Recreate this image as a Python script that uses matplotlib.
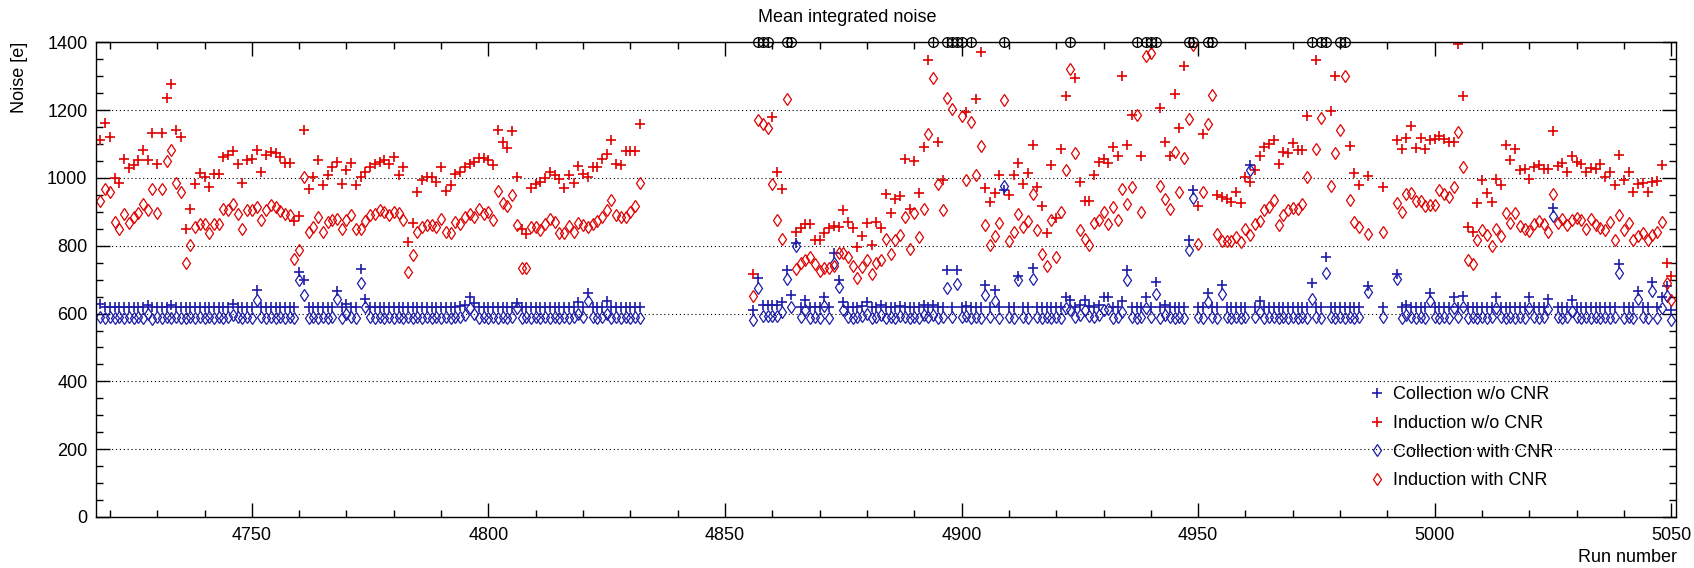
import numpy as np
import matplotlib
matplotlib.use("Agg")
import matplotlib.pyplot as plt
from matplotlib.ticker import MultipleLocator

nan = np.nan

# run numbers: two data taking periods, a few runs missing in the second one
runs_a = list(range(4718, 4833))
missing_b = [4985, 4987, 4988, 4990, 4991]
runs_b = [r for r in range(4856, 5051) if r not in missing_b]

# runs with a point above the 1400 e range (drawn as circles on the top axis)
overflow_runs = [4857, 4858, 4859, 4863, 4864, 4894, 4897, 4898, 4899, 4900,
                 4902, 4909, 4923, 4937, 4939, 4940, 4941, 4948, 4949, 4952,
                 4953, 4974, 4976, 4977, 4980, 4981]

# ---- period A (4718-4832) ----
ind_raw_a = [1111, 1163, 1121, 1000, 985, 1055, 1028, 1037, 1052, 1081,
             1052, 1133, 1042, 1133, 1237, 1276, 1142, 1121, 849, 908,
             981, 1015, 1003, 973, 1013, 1013, 1062, 1067, 1079, 1040,
             985, 1052, 1057, 1083, 1018, 1067, 1077, 1074, 1062, 1044,
             1044, 873, 888, 1140, 968, 1003, 1054, 978, 1008, 1031,
             1047, 983, 1023, 1044, 978, 1003, 1018, 1033,
             1042, 1047, 1054, 1042, 1062, 1008, 1031, 811, 868, 958,
             995, 1003, 1003, 988, 1031, 962, 978,
             1013, 1018, 1031, 1041, 1047, 1060, 1060, 1052, 1037, 1140,
             1106, 1089, 1138, 1003, 848, 836, 971, 981, 987, 1001,
             1018, 1008, 998, 971, 1008, 985, 1036, 1013, 1003, 1031,
             1031, 1057, 1070, 1111, 1040, 1037, 1079, 1079, 1079, 1160]

ind_cnr_a = [931, 968, 958, 870, 850, 895, 868, 884, 896, 923,
             904, 968, 897, 968, 1050, 1081, 985, 958, 750, 801,
             855, 865, 865, 838, 865, 863, 909, 904, 923, 895,
             850, 904, 904, 914, 876, 906, 921, 914, 902, 895,
             890, 762, 787, 1003, 840, 855, 886, 840, 870, 876,
             880, 848, 876, 891, 850, 850, 874, 890,
             895, 905, 900, 890, 900, 898, 875, 723, 773, 840,
             855, 862, 862, 855, 880, 840, 837,
             870, 865, 884, 894, 886, 909, 894, 899, 876, 961,
             926, 916, 949, 860, 733, 733, 855, 855, 847, 863,
             880, 870, 837, 837, 857, 842, 868, 862, 855, 865,
             873, 884, 904, 935, 892, 884, 886, 899, 917, 985]

col_raw_a = [627, 620, 618, 620, 620, 620, 620, 620, 620, 620,
             625, 620, 620, 620, 620, 624, 620, 618, 618, 620,
             620, 620, 620, 620, 620, 620, 620, 620, 627, 620,
             620, 620, 620, 669, 620, 620, 620, 620, 620, 620,
             620, 620, 723, 698, 620, 620, 620, 620, 620, 620,
             666, 620, 627, 620, 620, 730, 644, 620, 620, 620,
             620, 620, 620, 620, 620, 620, 620, 620, 620, 620,
             620, 620, 620, 620, 620, 620, 622, 625, 650, 630,
             620, 620, 620, 620, 620, 620, 620, 620, 632, 620,
             620, 620, 620, 620, 620, 620, 620, 620, 620, 620,
             620, 633, 620, 660, 620, 620, 620, 637, 620, 620,
             620, 620, 620, 620, 620]

col_cnr_a = [590, 588, 590, 588, 590, 588, 590, 588, 590, 588,
             600, 585, 590, 588, 590, 588, 590, 588, 586, 590,
             588, 590, 588, 590, 588, 590, 588, 590, 596, 590,
             588, 590, 588, 641, 590, 588, 590, 588, 590, 588,
             590, 588, 700, 654, 588, 590, 588, 590, 588, 590,
             642, 588, 600, 590, 588, 691, 618, 590, 588, 590,
             588, 590, 588, 590, 588, 590, 588, 590, 588, 590,
             588, 590, 588, 590, 588, 590, 590, 595, 615, 600,
             588, 590, 588, 590, 588, 590, 588, 590, 615, 588,
             590, 588, 590, 588, 590, 588, 590, 588, 590, 588,
             590, 600, 590, 638, 590, 588, 590, 600, 588, 590,
             588, 590, 588, 590, 588]

# ---- period B (4856-5050) ----
ind_raw_b = [718, nan, nan, nan, 1181, 1018, 966, nan, nan, 841,
             851, 865, 865, 818, 816, 838, 853, 857, 855, 905,
             869, 853, 796, 828, 867, 801, 869, 853, 954, 896,
             939, 948, 1057, 907, 1049, 957, 1091, 1349, nan, 1106,
             993, nan, nan, nan, nan, 1194, nan, 1234, 1371, 969,
             930, 957, 1010, nan, 951, 1010, 1043, 982, 1016, 1098,
             972, 918, 839, 1037, 881, 1084, 1241, nan, 1295, 987,
             933, 933, 1010, 1046, 1056, 1045, 1091, 1066, 1300, 1096,
             1185, nan, 1064, nan, nan, nan, 1205, 1106, 1064, 1247,
             1148, 1329, nan, nan, 918, 1130, nan, nan, 951, 943,
             938, 928, 958, 925, 1003, 989, 1023, 1066, 1091, 1101,
             1112, 1042, 1077, 1074, 1103, 1081, 1081, 1182, nan, 1347,
             nan, nan, 1197, 1302, nan, nan, 1094, 1015, 978,
             1005,
             974,
             1111, 1086, 1118, 1152, 1089, 1118, 1086, 1111, 1116, 1123,
             1116, 1106, 1106, 1396, 1242, 856, 841, 925, 993, 957,
             930, 998, 978, 1096, 1053, 1086, 1024, 1026, 998, 1032,
             1037, 1026, 1026, 1138, 1035, 1044, 1017, 1064, 1047, 1040,
             1017, 1030, 1026, 1040, 1003, 1017, 978, 1069, 993, 1017,
             959, 983, 985, 959, 988, 991, 1037, 748, 711]

ind_cnr_b = [651, 1172, 1158, 1147, 983, 875, 821, 1232, nan, 730,
             748, 758, 766, 745, 726, 733, 735, 740, 780, 779,
             767, 739, 706, 736, 758, 716, 748, 758, 821, 777,
             816, 831, 885, 789, 897, 826, 909, 1131, 1295, 983,
             904, 1236, 1203, nan, 1183, 993, 1166, 1010, 1093, 861,
             802, 828, 867, 1231, 815, 841, 893, 856, 873, 953,
             846, 776, 739, 875, 767, 899, 1023, 1320, 1074, 846,
             821, 802, 867, 877, 899, 864, 914, 875, 968, 922,
             973, 1187, 899, 1359, 1368, nan, 975, 939, 907, 1077,
             958, 1060, 1175, 1391, 804, 958, 1160, 1244, 834, 815,
             815, 813, 825, 810, 849, 832, 864, 874, 904, 914,
             935, 862, 891, 904, 912, 907, 922, 1003, nan, 1086,
             1178, nan, 975, 1074, 1141, 1302, 934, 871, 856,
             835,
             841,
             925, 901, 953, 957, 933, 933, 916, 921, 921, 964,
             953, 944, 974, 1135, 1032, 757, 745, 818, 846, 832,
             800, 848, 828, 896, 867, 896, 857, 848, 844, 863,
             872, 863, 841, 953, 867, 880, 860, 877, 883, 875,
             850, 880, 860, 853, 846, 870, 816, 890, 846, 867,
             816, 828, 838, 816, 831, 841, 870, 690, 640]

col_raw_b = [610, 706, 626, 626, 626, 626, 634, 729, 654, 807,
             620, 641, 620, 620, 620, 649, 620, 779, 699, 634,
             620, 620, 620, 622, 634, 620, 620, 625, 620, 620,
             620, 622, 620, 620, 620, 620, 625, 620, 626, 620,
             620, 729, 620, 729, 620, 622, 620, 620, 620, 684,
             620, 669, 620, 963, 620, 620, 711, 620, 620, 733,
             620, 620, 620, 620, 620, 620, 649, 640, 620, 625,
             640, 622, 620, 625, 649, 649, 620, 620, 638, 729,
             620, 620, 620, 649, 620, 694, 620, 625, 620, 620,
             620, 620, 818, 963, 620, 620, 661, 620, 620, 684,
             620, 620, 620, 620, 620, 1038, 620, 638, 620, 620,
             620, 620, 620, 620, 620, 620, 620, 620, 690, 620,
             620, 766, 620, 620, 620, 620, 620, 620, 620,
             680,
             620,
             718, 620, 625, 620, 620, 620, 620, 661, 620, 620,
             620, 620, 649, 620, 651, 620, 620, 620, 620, 620,
             620, 649, 620, 620, 620, 620, 620, 620, 649, 620,
             620, 620, 644, 912, 620, 620, 620, 640, 620, 620,
             620, 620, 620, 620, 620, 620, 620, 746, 620, 620,
             620, 668, 620, 620, 692, 620, 649, 682, 610]

col_cnr_b = [582, 674, 594, 594, 594, 592, 605, 703, 620, 799,
             590, 610, 588, 590, 588, 621, 588, 748, 677, 610,
             590, 588, 590, 592, 600, 588, 590, 595, 588, 590,
             588, 592, 590, 588, 590, 588, 595, 590, 596, 588,
             590, 674, 590, 688, 590, 592, 588, 590, 588, 655,
             590, 637, 588, 976, 590, 588, 699, 590, 588, 701,
             590, 588, 590, 588, 590, 588, 617, 610, 590, 595,
             610, 592, 590, 595, 610, 612, 588, 590, 605, 699,
             590, 588, 590, 615, 590, 657, 588, 595, 590, 588,
             590, 588, 788, 940, 590, 588, 634, 590, 588, 657,
             590, 588, 590, 588, 590, 1024, 590, 605, 588, 590,
             590, 588, 590, 588, 590, 588, 590, 588, 642, 590,
             588, 721, 590, 588, 590, 588, 590, 588, 590,
             664,
             590,
             703, 588, 595, 590, 588, 590, 588, 637, 590, 588,
             590, 588, 615, 590, 620, 588, 590, 588, 590, 588,
             590, 615, 590, 588, 590, 588, 590, 588, 615, 590,
             588, 590, 612, 887, 590, 588, 590, 608, 590, 588,
             590, 588, 590, 588, 590, 588, 590, 720, 588, 590,
             588, 643, 590, 588, 666, 588, 615, 651, 580]

runs = np.array(runs_a + runs_b)
col_raw = np.array(col_raw_a + col_raw_b, dtype=float)
ind_raw = np.array(ind_raw_a + ind_raw_b, dtype=float)
col_cnr = np.array(col_cnr_a + col_cnr_b, dtype=float)
ind_cnr = np.array(ind_cnr_a + ind_cnr_b, dtype=float)

plt.rcParams['font.family'] = ['Liberation Sans', 'DejaVu Sans']

red = '#e00000'
blue = '#1c1ca8'
y_max = 1400

fig = plt.figure(figsize=(16.94, 5.68), dpi=100)
ax = fig.add_axes([0.0565, 0.0898, 0.9329, 0.8357])

ax.plot(runs, col_raw, '+', color=blue, ms=7, mew=1.2, label='Collection w/o CNR')
ax.plot(runs, ind_raw, '+', color=red, ms=7, mew=1.2, label='Induction w/o CNR')
ax.plot(runs, col_cnr, 'd', color=blue, mfc='none', ms=6.5, mew=0.9, label='Collection with CNR')
ax.plot(runs, ind_cnr, 'd', color=red, mfc='none', ms=6.5, mew=0.9, label='Induction with CNR')

# overflow markers sitting on the upper frame
ov_y = np.full(len(overflow_runs), y_max)
ax.plot(overflow_runs, ov_y, 'o', mfc='none', mec='black', ms=7, mew=0.9, clip_on=False, zorder=5)
ax.plot(overflow_runs, ov_y, '|', color='black', ms=7, mew=0.9, clip_on=False, zorder=5)

ax.set_xlim(4717, 5051)
ax.set_ylim(0, y_max)
ax.xaxis.set_major_locator(MultipleLocator(50))
ax.xaxis.set_minor_locator(MultipleLocator(10))
ax.yaxis.set_major_locator(MultipleLocator(200))
ax.yaxis.set_minor_locator(MultipleLocator(50))
ax.tick_params(which='both', direction='in', top=True, right=True, labelsize=13)
ax.tick_params(which='major', length=10, width=1.0)
ax.tick_params(which='minor', length=5, width=1.0)
ax.tick_params(axis='x', pad=7)
ax.tick_params(axis='y', pad=6)
ax.grid(axis='y', which='major', linestyle=(0, (1, 2.5)), color='black', linewidth=0.8)
for s in ax.spines.values():
    s.set_linewidth(1.0)

fig.text(0.5, 1 - 18 / 568, 'Mean integrated noise', ha='center', va='center', fontsize=13)
fig.text(20 / 1694, 1 - 42 / 568, 'Noise [e]', rotation=90, ha='center', va='top', fontsize=13)
fig.text(1677 / 1694, 1 - 557 / 568, 'Run number', ha='right', va='center', fontsize=13)

ax.legend(loc='upper left', bbox_to_anchor=(0.806, 0.275), frameon=False, fontsize=13,
          handlelength=0.8, handletextpad=0.5, labelspacing=0.64, borderpad=0, borderaxespad=0)

fig.savefig('out.png', dpi=100)
